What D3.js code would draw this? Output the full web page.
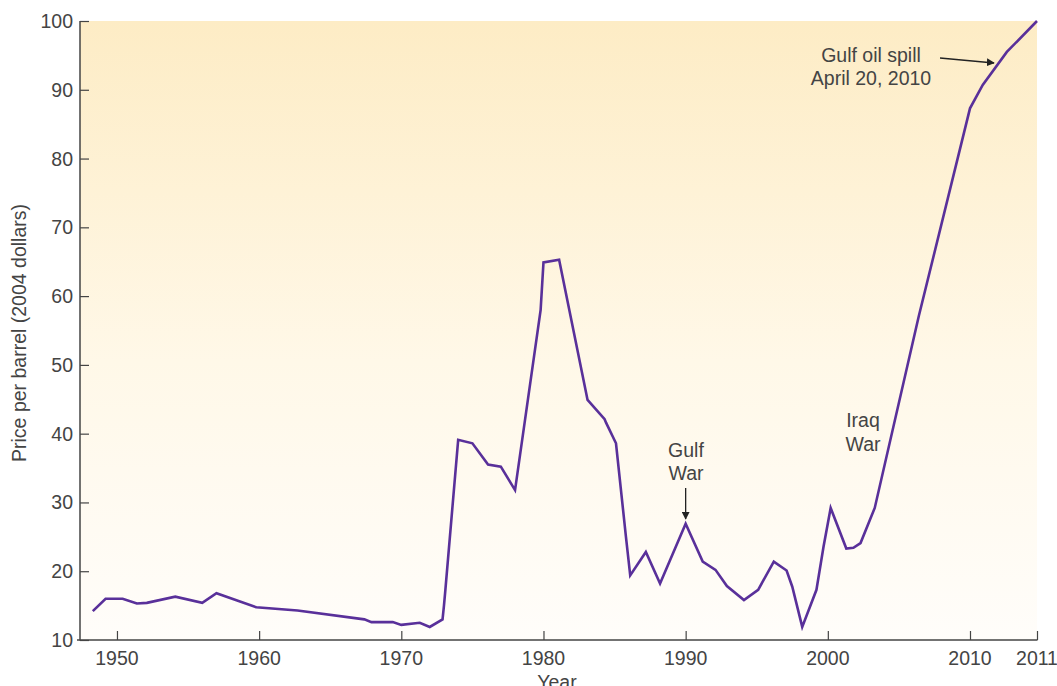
<!DOCTYPE html>
<html>
<head>
<meta charset="utf-8">
<script src="https://cdn.jsdelivr.net/npm/d3@7"></script>
<style>
  body { margin: 0; background: #fff; }
  text { font-family: "Liberation Sans", Arial, sans-serif; fill: #444; }
</style>
</head>
<body>
<div id="chart"></div>
<script>
// oil price per barrel, 2004 dollars
var years = [1948.3, 1949.2, 1950.4, 1951.4, 1952.1, 1954.1, 1956.0, 1957.0, 1959.8, 1962.7,
  1967.4, 1967.9, 1969.4, 1970.0, 1971.3, 1972.0, 1972.9, 1973.0, 1973.1, 1974.0,
  1975.0, 1976.1, 1977.0, 1978.0, 1979.8, 1980.0, 1981.1, 1983.1, 1984.3, 1984.4,
  1985.1, 1985.8, 1986.1, 1987.2, 1988.2, 1990.0, 1991.2, 1992.1, 1992.9, 1994.1,
  1995.1, 1996.2, 1997.1, 1997.5, 1998.2, 1999.2, 1999.7, 2000.2, 2001.3, 2001.8,
  2002.3, 2003.3, 2006.4, 2010.0, 2010.19, 2010.55, 2011.0];
var prices = [14.2, 16.0, 16.0, 15.3, 15.4, 16.3, 15.4, 16.8, 14.75, 14.3,
  13.0, 12.6, 12.6, 12.2, 12.5, 11.9, 13.0, 15.0, 17.3, 39.1,
  38.6, 35.5, 35.2, 31.8, 58.0, 64.9, 65.3, 44.9, 42.1, 41.6,
  38.6, 25.0, 19.4, 22.8, 18.2, 26.9, 21.4, 20.2, 17.85, 15.8,
  17.3, 21.4, 20.1, 17.75, 11.9, 17.3, 23.6, 29.2, 23.3, 23.4,
  24.1, 29.2, 57.1, 87.3, 90.7, 95.5, 100];
var xTicks = [1950, 1960, 1970, 1980, 1990, 2000, 2010, 2011];
var yTicks = [10, 20, 30, 40, 50, 60, 70, 80, 90, 100];

var W = 1057, H = 686;
var plotL = 80, plotR = 1037, plotT = 21, plotB = 640;
var fs = 19.5;

var svg = d3.select("#chart").append("svg").attr("width", W).attr("height", H);

// last year is squeezed onto the right edge, like the original
var x = d3.scaleLinear().domain([1947.4, 2010, 2011]).range([plotL, 970, plotR]);
var y = d3.scaleLinear().domain([10, 100]).range([plotB, plotT]);

var defs = svg.append("defs");
var grad = defs.append("linearGradient")
  .attr("id", "bg").attr("x1", 0).attr("y1", 0).attr("x2", 0).attr("y2", 1);
grad.append("stop").attr("offset", "0%").attr("stop-color", "#fdecc5");
grad.append("stop").attr("offset", "55%").attr("stop-color", "#fff8e8");
grad.append("stop").attr("offset", "100%").attr("stop-color", "#fffdfa");

svg.append("rect")
  .attr("x", plotL).attr("y", plotT)
  .attr("width", plotR - plotL).attr("height", plotB - plotT)
  .attr("fill", "url(#bg)");

// axes
var yAxis = svg.append("g").attr("transform", `translate(${plotL},0)`)
  .call(d3.axisRight(y).tickValues(yTicks).tickSize(9).tickFormat(""));
yAxis.select(".domain").remove();
yAxis.selectAll("line").attr("stroke", "#444").attr("stroke-width", 1.2);
svg.append("line").attr("x1", plotL).attr("x2", plotL).attr("y1", plotT).attr("y2", plotB + 0.5)
  .attr("stroke", "#444").attr("stroke-width", 1.5);

svg.selectAll("text.ytick").data(yTicks).enter().append("text")
  .attr("class", "ytick")
  .attr("x", 73).attr("y", d => y(d) + 7)
  .attr("text-anchor", "end").attr("font-size", fs)
  .text(d => d);

var xAxis = svg.append("g").attr("transform", `translate(0,${plotB})`)
  .call(d3.axisTop(x).tickValues(xTicks).tickSize(9).tickFormat(""));
xAxis.select(".domain").remove();
xAxis.selectAll("line").attr("stroke", "#444").attr("stroke-width", 1.2);
svg.append("line").attr("x1", 77).attr("x2", plotR + 0.5).attr("y1", plotB).attr("y2", plotB)
  .attr("stroke", "#444").attr("stroke-width", 1.5);

svg.selectAll("text.xtick").data(xTicks).enter().append("text")
  .attr("class", "xtick")
  .attr("x", d => x(d)).attr("y", 664.5)
  .attr("text-anchor", "middle").attr("font-size", fs)
  .text(d => d);

svg.append("text").attr("x", 557).attr("y", 689)
  .attr("text-anchor", "middle").attr("font-size", fs).text("Year");

svg.append("text")
  .attr("transform", "translate(26,333) rotate(-90)")
  .attr("text-anchor", "middle").attr("font-size", fs)
  .text("Price per barrel (2004 dollars)");

// price line
var line = d3.line().x((d, i) => x(years[i])).y(d => y(d));
svg.append("path").datum(prices)
  .attr("d", line)
  .attr("fill", "none")
  .attr("stroke", "#59309a")
  .attr("stroke-width", 2.6)
  .attr("stroke-linejoin", "miter");

// annotations
defs.append("marker")
  .attr("id", "arrow").attr("viewBox", "0 0 10 10")
  .attr("refX", 9).attr("refY", 5)
  .attr("markerWidth", 8).attr("markerHeight", 8)
  .attr("markerUnits", "userSpaceOnUse")
  .attr("orient", "auto")
  .append("path").attr("d", "M0,0 L10,5 L0,10 Z").attr("fill", "#222");

function label(lines, cx, y0, gap) {
  var t = svg.append("text").attr("text-anchor", "middle").attr("font-size", fs);
  lines.forEach((s, i) => t.append("tspan").attr("x", cx).attr("y", y0 + i * gap).text(s));
}

label(["Gulf oil spill", "April 20, 2010"], 871, 61.5, 23.5);
svg.append("line").attr("x1", 940).attr("y1", 58).attr("x2", 994).attr("y2", 63)
  .attr("stroke", "#222").attr("stroke-width", 1.3).attr("marker-end", "url(#arrow)");

label(["Gulf", "War"], 686, 456.7, 23.3);
svg.append("line").attr("x1", x(1990)).attr("y1", 488).attr("x2", x(1990)).attr("y2", 519)
  .attr("stroke", "#222").attr("stroke-width", 1.3).attr("marker-end", "url(#arrow)");

label(["Iraq", "War"], 863, 427.3, 23.7);
</script>
</body>
</html>
